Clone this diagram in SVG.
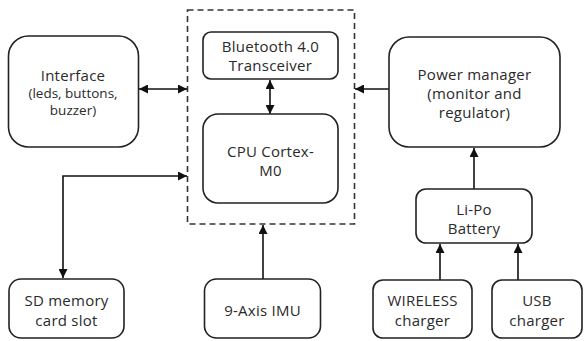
<svg xmlns="http://www.w3.org/2000/svg" width="585" height="341" viewBox="0 0 585 341">
  <style>
    .box { fill: #fff; stroke: #222; stroke-width: 1.6; }
    .grp { fill: none; stroke: #333; stroke-width: 1.6; stroke-dasharray: 6 4; }
    .wire { fill: none; stroke: #111; stroke-width: 1.6; }
    text { font-family: "Open Sans", "Noto Sans", "DejaVu Sans", sans-serif; font-size: 15px; letter-spacing: 0.25px; fill: #2a2a2a; text-anchor: middle; }
    .small { font-size: 13.5px; letter-spacing: 0; }
  </style>
  <defs>
    <marker id="ah" viewBox="0 0 10 10" refX="10" refY="5" markerWidth="9" markerHeight="9" markerUnits="userSpaceOnUse" orient="auto-start-reverse">
      <path d="M0,0 L10,5 L0,10 z" fill="#111"/>
    </marker>
  </defs>
  <rect width="585" height="341" fill="#fff"/>

  <!-- MCU module boundary -->
  <g id="module">
    <rect class="grp" x="187.5" y="10" width="167" height="214"/>
  </g>

  <g id="connectors">
    <line class="wire" x1="139" y1="89" x2="187" y2="89" marker-start="url(#ah)" marker-end="url(#ah)"/>
    <line class="wire" x1="389" y1="89" x2="355" y2="89" marker-end="url(#ah)"/>
    <line class="wire" x1="270" y1="80" x2="270" y2="114" marker-start="url(#ah)" marker-end="url(#ah)"/>
    <polyline class="wire" points="187,176 63,176 63,278" marker-start="url(#ah)" marker-end="url(#ah)"/>
    <line class="wire" x1="263" y1="279" x2="263" y2="225" marker-end="url(#ah)"/>
    <line class="wire" x1="474" y1="189" x2="474" y2="148" marker-end="url(#ah)"/>
    <line class="wire" x1="440" y1="280" x2="440" y2="244" marker-end="url(#ah)"/>
    <line class="wire" x1="518" y1="280" x2="518" y2="244" marker-end="url(#ah)"/>
  </g>

  <g id="interface">
    <rect class="box" x="8.5" y="36" width="130" height="111" rx="20"/>
    <text x="73" y="81">Interface</text>
    <text class="small" x="73" y="98">(leds, buttons,</text>
    <text class="small" x="73" y="115">buzzer)</text>
  </g>

  <g id="bluetooth">
    <rect class="box" x="203" y="32" width="135" height="47" rx="8"/>
    <text x="270.5" y="52">Bluetooth 4.0</text>
    <text x="270.5" y="71">Transceiver</text>
  </g>

  <g id="cpu">
    <rect class="box" x="203" y="114" width="135" height="89" rx="15"/>
    <text x="270.5" y="157">CPU Cortex-</text>
    <text x="270.5" y="176">M0</text>
  </g>

  <g id="power">
    <rect class="box" x="389" y="37" width="171" height="110" rx="20"/>
    <text x="474.5" y="80">Power manager</text>
    <text x="474.5" y="99">(monitor and</text>
    <text x="474.5" y="118">regulator)</text>
  </g>

  <g id="battery">
    <rect class="box" x="416" y="189" width="116" height="54" rx="10"/>
    <text x="474" y="215">Li-Po</text>
    <text x="474" y="234">Battery</text>
  </g>

  <g id="sd">
    <rect class="box" x="9" y="279" width="115" height="59" rx="12"/>
    <text x="66.5" y="306">SD memory</text>
    <text x="66.5" y="326">card slot</text>
  </g>

  <g id="imu">
    <rect class="box" x="204.5" y="279" width="116" height="59" rx="12"/>
    <text x="262.5" y="316">9-Axis IMU</text>
  </g>

  <g id="wireless">
    <rect class="box" x="373" y="280" width="99" height="58" rx="10"/>
    <text x="422.5" y="306">WIRELESS</text>
    <text x="422.5" y="326">charger</text>
  </g>

  <g id="usb">
    <rect class="box" x="492" y="280" width="90" height="58" rx="10"/>
    <text x="537" y="306">USB</text>
    <text x="537" y="326">charger</text>
  </g>
</svg>
